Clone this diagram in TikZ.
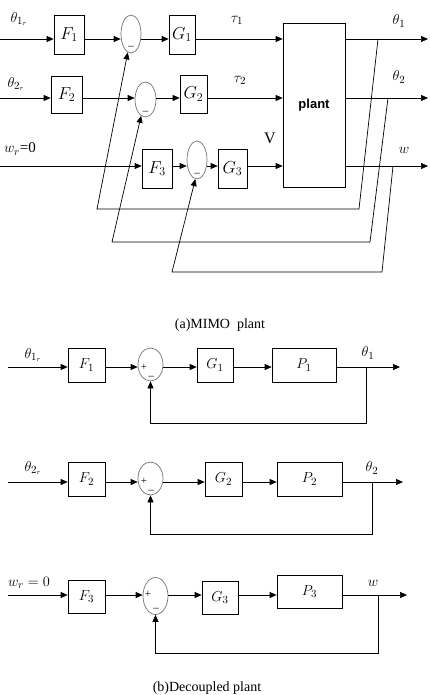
\documentclass[tikz,border=0pt]{standalone}
\usepackage[no-math]{fontspec}
\setmainfont{Liberation Serif}
\newfontfamily\plantfont{Liberation Sans}
\usetikzlibrary{arrows.meta,shapes.geometric}
\begin{document}
\begin{tikzpicture}[x=1pt,y=-1pt, line width=0.7pt,
 blk/.style={draw, inner sep=0pt, font=\fontsize{17}{19}\selectfont},
 blkb/.style={draw, inner sep=0pt, font=\fontsize{15}{17}\selectfont},
 sumj/.style={draw=black!55, ellipse, inner sep=0pt},
 arr/.style={-{Triangle[length=7pt,width=6pt]}},
 lbl/.style={inner sep=0pt, font=\fontsize{15}{17}\selectfont},
 sgn/.style={inner sep=0pt, font=\fontsize{11}{13}\selectfont},
 captxt/.style={inner sep=0pt, font=\fontsize{14}{16}\selectfont}]
\useasboundingbox (0,0) rectangle (429,695);

% ---------- (a) MIMO plant ----------
\node[blk, minimum width=30pt, minimum height=39pt] (F1) at (69,34.5) {$F_1$};
\node[sumj, minimum width=20pt, minimum height=38pt] (S1) at (131,34) {};
\node[blk, minimum width=26pt, minimum height=39pt] (G1) at (182,34.5) {$G_1$};
\node[draw, inner sep=0pt, minimum width=62pt, minimum height=164pt,
      font=\plantfont\bfseries\fontsize{13}{15}\selectfont] (P) at (314,105) {plant};

\node[blk, minimum width=31pt, minimum height=37pt] (F2) at (66.5,94.5) {$F_2$};
\node[sumj, minimum width=21pt, minimum height=35pt] (S2) at (145.5,99.5) {};
\node[blk, minimum width=27pt, minimum height=38pt] (G2) at (193.5,94) {$G_2$};

\node[blk, minimum width=30pt, minimum height=39pt] (F3) at (157,168.5) {$F_3$};
\node[sumj, minimum width=20pt, minimum height=38pt] (S3) at (197,160) {};
\node[blk, minimum width=29pt, minimum height=39pt] (G3) at (232.5,168.5) {$G_3$};

\node[sgn, anchor=base] (m1) at (131,46) {\_};
\node[sgn, anchor=base] (m2) at (145.5,111) {\_};
\node[sgn, anchor=base] (m3) at (197,172) {\_};

\coordinate (in1) at (0,39);
\coordinate (in2) at (0,98);
\coordinate (in3) at (0,166);
\coordinate (o1) at (428,39);
\coordinate (o2) at (428,98);
\coordinate (o3) at (428,166);

\draw[arr] (in1) -- (in1 -| F1.west);
\draw[arr] (F1.east |- in1) -- (S1.west |- in1);
\draw[arr] (S1.east |- in1) -- (G1.west |- in1);
\draw[arr] (G1.east |- in1) -- (P.west |- in1);
\draw[arr] (P.east |- in1) -- (o1);

\draw[arr] (in2) -- (in2 -| F2.west);
\draw[arr] (F2.east |- in2) -- (S2.west |- in2);
\draw[arr] (S2.east |- in2) -- (G2.west |- in2);
\draw[arr] (G2.east |- in2) -- (P.west |- in2);
\draw[arr] (P.east |- in2) -- (o2);

\draw[arr] (in3) -- (in3 -| F3.west);
\draw[arr] (F3.east |- in3) -- (S3.west |- in3);
\draw[arr] (S3.east |- in3) -- (G3.west |- in3);
\draw[arr] (G3.east |- in3) -- (P.west |- in3);
\draw[arr] (P.east |- in3) -- (o3);

% feedback paths
\coordinate (b1) at (378,39);  \coordinate (c1) at (359,209); \coordinate (d1) at (97,209);
\coordinate (b2) at (388,98);  \coordinate (c2) at (370,242); \coordinate (d2) at (112,242);
\coordinate (b3) at (393,166); \coordinate (c3) at (382,272); \coordinate (d3) at (172,272);
\draw[arr] (b1) -- (c1) -- (d1) -- (S1.-100);
\draw[arr] (b2) -- (c2) -- (d2) -- (S2.-105);
\draw[arr] (b3) -- (c3) -- (d3) -- (S3.-95);

\node[lbl] (t1r) at (19,19) {$\theta_{1_r}$};
\node[lbl] (t2r) at (16,84) {$\theta_{2_r}$};
\node[lbl] (wr) at (20,149) {$w_r$=0};
\node[lbl] (tau1) at (237,20) {$\tau_1$};
\node[lbl] (tau2) at (240,80) {$\tau_2$};
\node[lbl, font=\fontsize{16}{18}\selectfont] (V) at (270,138) {V};
\node[lbl] (th1) at (399,21) {$\theta_1$};
\node[lbl] (th2) at (399,77) {$\theta_2$};
\node[lbl] (wo) at (404,150) {$w$};
\node[captxt] (capa) at (220,325) {(a)MIMO\ \ plant};

% ---------- (b) Decoupled plant ----------
\node[blkb, minimum width=37pt, minimum height=34pt] (F1b) at (86.5,365) {$F_1$};
\node[sumj, minimum width=25pt, minimum height=33pt] (S1b) at (150.5,364.5) {};
\node[blkb, minimum width=36pt, minimum height=34pt] (G1b) at (215,365) {$G_1$};
\node[blkb, minimum width=64pt, minimum height=34pt] (P1b) at (304,365) {$P_1$};

\node[blkb, minimum width=37pt, minimum height=34pt] (F2b) at (86.5,479) {$F_2$};
\node[sumj, minimum width=25pt, minimum height=33pt] (S2b) at (150.5,478.5) {};
\node[blkb, minimum width=37pt, minimum height=34pt] (G2b) at (223.5,479) {$G_2$};
\node[blkb, minimum width=65pt, minimum height=34pt] (P2b) at (309.5,479) {$P_2$};

\node[blkb, minimum width=37pt, minimum height=33pt] (F3b) at (86.5,596.5) {$F_3$};
\node[sumj, minimum width=25pt, minimum height=37pt] (S3b) at (155.5,596) {};
\node[blkb, minimum width=36pt, minimum height=33pt] (G3b) at (220,597.5) {$G_3$};
\node[blkb, minimum width=65pt, minimum height=33pt] (P3b) at (309.5,591.5) {$P_3$};

\node[sgn] (p1b) at (144,367) {+};
\node[sgn, anchor=base] (m1b) at (151,375) {\_};
\node[sgn] (p2b) at (144,481) {+};
\node[sgn, anchor=base] (m2b) at (151,489) {\_};
\node[sgn] (p3b) at (148,594) {+};
\node[sgn, anchor=base] (m3b) at (156,607) {\_};

\coordinate (in1b) at (8,367);  \coordinate (o1b) at (400,367);
\coordinate (in2b) at (8,482);  \coordinate (o2b) at (403,482);
\coordinate (in3b) at (8,595);  \coordinate (o3b) at (407,595);

\draw[arr] (in1b) -- (in1b -| F1b.west);
\draw[arr] (F1b.east |- in1b) -- (S1b.west |- in1b);
\draw[arr] (S1b.east |- in1b) -- (G1b.west |- in1b);
\draw[arr] (G1b.east |- in1b) -- (P1b.west |- in1b);
\draw[arr] (P1b.east |- in1b) -- (o1b);

\draw[arr] (in2b) -- (in2b -| F2b.west);
\draw[arr] (F2b.east |- in2b) -- (S2b.west |- in2b);
\draw[arr] (S2b.east |- in2b) -- (G2b.west |- in2b);
\draw[arr] (G2b.east |- in2b) -- (P2b.west |- in2b);
\draw[arr] (P2b.east |- in2b) -- (o2b);

\draw[arr] (in3b) -- (in3b -| F3b.west);
\draw[arr] (F3b.east |- in3b) -- (S3b.west |- in3b);
\draw[arr] (S3b.east |- in3b) -- (G3b.west |- in3b);
\draw[arr] (G3b.east |- in3b) -- (P3b.west |- in3b);
\draw[arr] (P3b.east |- in3b) -- (o3b);

\coordinate (br1) at (366,367); \coordinate (fb1) at (366,423);
\coordinate (br2) at (372,482); \coordinate (fb2) at (372,534);
\coordinate (br3) at (378,595); \coordinate (fb3) at (378,653);
\draw[arr] (br1) -- (fb1) -| (S1b.south);
\draw[arr] (br2) -- (fb2) -| (S2b.south);
\draw[arr] (br3) -- (fb3) -| (S3b.south);

\node[lbl] (t1rb) at (33,355) {$\theta_{1_r}$};
\node[lbl] (t1b) at (368,353) {$\theta_1$};
\node[lbl] (t2rb) at (33,468) {$\theta_{2_r}$};
\node[lbl] (t2b) at (372,468) {$\theta_2$};
\node[lbl] (wrb) at (29,583) {$w_r = 0$};
\node[lbl] (wb) at (373,583) {$w$};
\node[captxt] (capb) at (207,688) {(b)Decoupled plant};
\end{tikzpicture}
\end{document}
